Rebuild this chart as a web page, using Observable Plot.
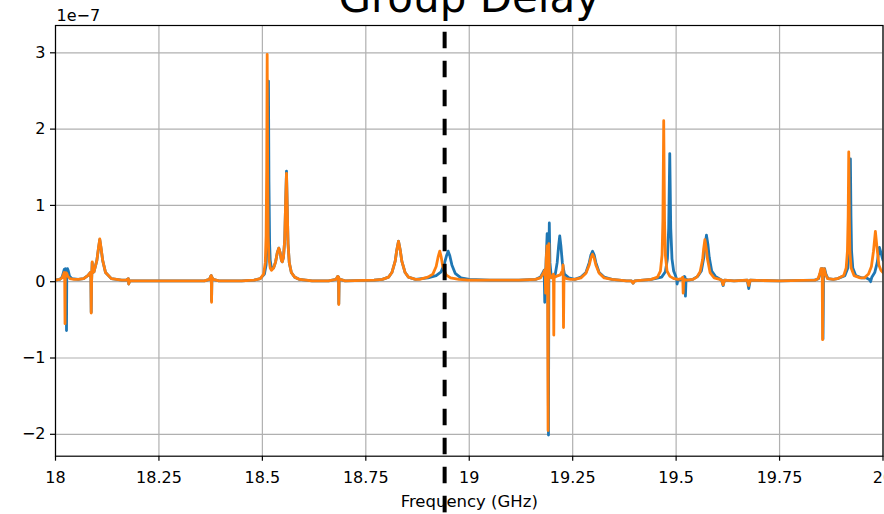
<!DOCTYPE html>
<html>
<head>
<meta charset="utf-8">
<script src="https://cdn.jsdelivr.net/npm/d3@7"></script>
<script src="https://cdn.jsdelivr.net/npm/@observablehq/plot@0.6"></script>
<style>
  html, body { margin: 0; padding: 0; background: #fff; overflow: hidden; }
  #chart svg { display: block; }
</style>
</head>
<body>
<div id="chart"></div>
<script>
// ---- data (group delay in units of 1e-7 s, frequency in GHz) ----
const titleText = "Group Delay";
const xLabelText = "Frequency (GHz)";
const yExponentText = "1e\u22127";
const xTicks = [18, 18.25, 18.5, 18.75, 19, 19.25, 19.5, 19.75, 20];
const yTicks = [-2, -1, 0, 1, 2, 3];
const markerFreq = 18.9405;

// series 1 (blue): [frequency, group delay]
const blueSeries = [
  [18.000,0.02],[18.010,0.03],[18.016,0.06],[18.019,0.12],[18.021,0.16],[18.024,0.17],
  [18.0260,0.12],[18.0266,-0.64],[18.0273,0.12],[18.029,0.17],[18.031,0.14],[18.034,0.07],
  [18.040,0.04],[18.055,0.03],[18.068,0.04],[18.078,0.08],[18.084,0.12],[18.0855,0.05],
  [18.0863,-0.40],[18.0872,0.00],[18.0887,0.25],[18.0900,0.12],[18.093,0.13],[18.100,0.28],
  [18.104,0.44],[18.107,0.55],[18.110,0.44],[18.114,0.28],[18.121,0.12],[18.135,0.04],
  [18.160,0.02],[18.171,0.02],[18.176,0.04],[18.177,-0.03],[18.179,0.01],[18.200,0.01],
  [18.300,0.01],[18.360,0.01],[18.372,0.03],[18.375,0.07],[18.3765,0.08],[18.3772,-0.25],
  [18.378,0.06],[18.381,0.03],[18.395,0.01],[18.450,0.01],[18.480,0.02],[18.495,0.04],
  [18.505,0.10],[18.509,0.22],[18.5115,0.50],[18.5135,1.30],[18.5147,2.63],[18.5159,1.30],
  [18.5175,0.50],[18.519,0.28],[18.522,0.17],[18.527,0.18],[18.532,0.26],[18.536,0.38],
  [18.5397,0.44],[18.543,0.38],[18.546,0.28],[18.548,0.26],[18.551,0.32],[18.554,0.55],
  [18.556,1.00],[18.5583,1.45],[18.560,1.00],[18.562,0.50],[18.565,0.25],[18.570,0.12],
  [18.578,0.06],[18.590,0.03],[18.620,0.01],[18.660,0.01],[18.678,0.03],[18.682,0.07],
  [18.684,0.06],[18.6847,-0.29],[18.6855,0.04],[18.688,0.03],[18.700,0.01],[18.770,0.02],
  [18.790,0.03],[18.805,0.06],[18.813,0.12],[18.821,0.27],[18.825,0.42],[18.829,0.53],
  [18.833,0.42],[18.837,0.27],[18.845,0.12],[18.853,0.06],[18.870,0.03],[18.900,0.05],
  [18.920,0.08],[18.932,0.13],[18.940,0.24],[18.945,0.34],[18.949,0.40],[18.953,0.34],
  [18.958,0.22],[18.966,0.11],[18.980,0.05],[19.000,0.03],[19.050,0.02],[19.120,0.02],
  [19.160,0.03],[19.172,0.06],[19.178,0.12],[19.181,0.15],[19.1825,-0.27],[19.1845,0.10],
  [19.1883,0.63],[19.1900,0.20],[19.1915,-2.01],[19.1925,0.30],[19.1935,0.77],[19.1950,0.25],
  [19.1980,0.08],[19.2030,0.06],[19.2080,0.10],[19.2125,0.25],[19.2160,0.47],[19.2187,0.60],
  [19.2215,0.47],[19.2250,0.25],[19.2300,0.10],[19.2405,0.05],[19.255,0.03],[19.270,0.06],
  [19.282,0.12],[19.290,0.25],[19.294,0.35],[19.298,0.40],[19.302,0.35],[19.306,0.25],
  [19.314,0.12],[19.326,0.06],[19.345,0.03],[19.380,0.01],[19.392,0.01],[19.396,-0.02],
  [19.400,0.01],[19.440,0.03],[19.465,0.06],[19.474,0.13],[19.479,0.30],[19.482,0.70],
  [19.4846,1.68],[19.487,0.70],[19.490,0.30],[19.494,0.14],[19.4990,0.07],[19.5015,0.03],
  [19.5024,-0.03],[19.5040,0.02],[19.515,0.03],[19.520,0.07],[19.5215,0.06],[19.5225,-0.19],
  [19.5240,0.03],[19.530,0.02],[19.540,0.03],[19.552,0.07],[19.561,0.14],[19.567,0.32],
  [19.570,0.48],[19.5733,0.61],[19.577,0.48],[19.580,0.32],[19.586,0.14],[19.595,0.07],
  [19.610,0.02],[19.6136,-0.05],[19.617,0.02],[19.640,0.01],[19.672,0.02],[19.6755,-0.09],
  [19.679,0.02],[19.750,0.01],[19.835,0.02],[19.844,0.04],[19.848,0.10],[19.851,0.17],
  [19.854,0.17],[19.855,-0.75],[19.8565,0.15],[19.859,0.17],[19.862,0.10],[19.867,0.04],
  [19.880,0.03],[19.890,0.04],[19.908,0.08],[19.915,0.18],[19.918,0.40],[19.9198,0.85],
  [19.9212,1.61],[19.9226,0.85],[19.924,0.40],[19.927,0.18],[19.934,0.08],[19.948,0.05],
  [19.960,0.05],[19.967,0.03],[19.970,0.00],[19.973,0.06],[19.980,0.12],[19.986,0.25],
  [19.9913,0.45],[19.995,0.38],[20.000,0.28]
];

// series 2 (orange): [frequency, group delay]
const orangeSeries = [
  [18.000,0.02],[18.010,0.03],[18.016,0.05],[18.019,0.09],[18.021,0.12],[18.0222,0.06],
  [18.0230,-0.55],[18.0237,0.08],[18.025,0.12],[18.027,0.11],[18.030,0.07],[18.035,0.04],
  [18.045,0.03],[18.055,0.03],[18.068,0.04],[18.078,0.08],[18.084,0.12],[18.0855,0.05],
  [18.0863,-0.41],[18.0872,0.00],[18.0887,0.26],[18.0900,0.12],[18.093,0.13],[18.100,0.28],
  [18.104,0.45],[18.107,0.56],[18.110,0.45],[18.114,0.28],[18.121,0.12],[18.135,0.04],
  [18.160,0.02],[18.171,0.02],[18.176,0.04],[18.177,-0.03],[18.179,0.01],[18.200,0.01],
  [18.300,0.01],[18.360,0.01],[18.372,0.03],[18.375,0.07],[18.3765,0.08],[18.3772,-0.27],
  [18.378,0.06],[18.381,0.03],[18.395,0.01],[18.450,0.01],[18.480,0.02],[18.495,0.04],
  [18.503,0.10],[18.507,0.25],[18.509,0.60],[18.5105,1.50],[18.5116,2.98],[18.5128,1.50],
  [18.514,0.60],[18.516,0.30],[18.519,0.18],[18.522,0.15],[18.527,0.18],[18.532,0.26],
  [18.536,0.38],[18.5397,0.44],[18.543,0.38],[18.546,0.28],[18.548,0.26],[18.551,0.32],
  [18.554,0.55],[18.556,1.00],[18.5583,1.42],[18.560,1.00],[18.562,0.50],[18.565,0.25],
  [18.570,0.12],[18.578,0.06],[18.590,0.03],[18.620,0.01],[18.660,0.01],[18.678,0.03],
  [18.682,0.07],[18.684,0.06],[18.6847,-0.30],[18.6855,0.04],[18.688,0.03],[18.700,0.01],
  [18.770,0.02],[18.790,0.03],[18.805,0.06],[18.813,0.12],[18.821,0.27],[18.825,0.42],
  [18.829,0.53],[18.833,0.42],[18.837,0.27],[18.845,0.12],[18.853,0.06],[18.870,0.03],
  [18.880,0.03],[18.900,0.06],[18.912,0.10],[18.920,0.20],[18.925,0.33],[18.9287,0.40],
  [18.932,0.33],[18.936,0.20],[18.944,0.09],[18.955,0.05],[18.975,0.03],[19.000,0.02],
  [19.120,0.02],[19.160,0.03],[19.172,0.05],[19.178,0.10],[19.1815,0.14],[19.1835,0.16],
  [19.1845,-0.15],[19.1860,0.30],[19.1880,0.47],[19.1893,0.30],[19.1905,-1.95],[19.1915,0.20],
  [19.1925,0.50],[19.1940,0.12],[19.1980,0.05],[19.2020,0.06],[19.2035,0.10],[19.2043,-0.70],
  [19.2052,0.05],[19.2100,0.07],[19.2200,0.09],[19.2255,0.15],[19.2268,0.22],[19.2278,-0.60],
  [19.2290,0.06],[19.2350,0.04],[19.2450,0.03],[19.255,0.03],[19.270,0.05],[19.282,0.11],
  [19.290,0.22],[19.294,0.31],[19.298,0.36],[19.302,0.31],[19.306,0.22],[19.314,0.11],
  [19.326,0.05],[19.345,0.03],[19.380,0.01],[19.392,0.01],[19.396,-0.02],[19.400,0.01],
  [19.440,0.03],[19.455,0.06],[19.462,0.14],[19.466,0.35],[19.468,0.80],[19.470,2.11],
  [19.472,0.80],[19.474,0.35],[19.478,0.14],[19.485,0.07],[19.495,0.04],[19.505,0.03],
  [19.513,0.04],[19.5160,0.06],[19.5170,-0.15],[19.5185,0.03],[19.525,0.02],[19.540,0.03],
  [19.550,0.06],[19.558,0.13],[19.564,0.29],[19.5665,0.43],[19.5695,0.55],[19.573,0.43],
  [19.576,0.29],[19.582,0.12],[19.592,0.05],[19.605,0.03],[19.610,0.02],[19.6136,-0.04],
  [19.617,0.02],[19.640,0.01],[19.672,0.02],[19.6755,-0.05],[19.679,0.02],[19.750,0.01],
  [19.835,0.02],[19.843,0.04],[19.847,0.10],[19.850,0.17],[19.853,0.17],[19.854,-0.76],
  [19.8555,0.15],[19.858,0.17],[19.861,0.10],[19.866,0.04],[19.880,0.03],[19.890,0.04],
  [19.905,0.08],[19.911,0.18],[19.914,0.40],[19.9158,0.85],[19.9172,1.70],[19.9186,0.85],
  [19.920,0.40],[19.923,0.18],[19.930,0.08],[19.945,0.05],[19.955,0.05],[19.965,0.10],
  [19.972,0.20],[19.977,0.40],[19.9816,0.66],[19.986,0.42],[19.990,0.22],[19.995,0.15],
  [20.000,0.12]
];

const blue = blueSeries.map(([f, v]) => ({f, v}));
const orange = orangeSeries.map(([f, v]) => ({f, v}));
const fmtY = d => (d < 0 ? "\u2212" + Math.abs(d) : String(d));

const chart = Plot.plot({
  width: 884,
  height: 514,
  marginLeft: 55,
  marginRight: 1.5,
  marginTop: 25,
  marginBottom: 58.3,
  style: {fontFamily: "'DejaVu Sans', sans-serif", fontSize: "16px", background: "white", color: "black"},
  x: {domain: [18, 20], inset: 0},
  y: {domain: [-2.287, 3.358], inset: 0},
  marks: [
    Plot.gridX({ticks: xTicks, stroke: "#b0b0b0", strokeOpacity: 1, strokeWidth: 1.2}),
    Plot.gridY({ticks: yTicks, stroke: "#b0b0b0", strokeOpacity: 1, strokeWidth: 1.2}),
    Plot.line(blue, {x: "f", y: "v", stroke: "#1f77b4", strokeWidth: 2.8, strokeLinejoin: "round", clip: true}),
    Plot.line(orange, {x: "f", y: "v", stroke: "#ff7f0e", strokeWidth: 2.8, strokeLinejoin: "round", clip: true}),
    Plot.frame({stroke: "black", strokeWidth: 1.2}),
    Plot.axisX({ticks: xTicks, tickSize: 5, tickPadding: 10, tickFormat: d => String(d), fontSize: 16, label: null, strokeWidth: 1.2}),
    Plot.axisY({ticks: yTicks, tickSize: 5, tickPadding: 5, tickFormat: fmtY, fontSize: 16, label: null, strokeWidth: 1.2}),
    Plot.ruleX([markerFreq], {y1: 3.268, y2: -3.1, stroke: "black", strokeWidth: 4, strokeDasharray: "16.5,12.5"}),
    Plot.text([titleText], {frameAnchor: "top", dy: -14, lineAnchor: "bottom", fontSize: 42}),
    Plot.text([yExponentText], {frameAnchor: "top-left", dx: 1, dy: -4.5, lineAnchor: "bottom", textAnchor: "start", fontSize: 16}),
    Plot.text([xLabelText], {frameAnchor: "bottom", dy: 50.3, lineAnchor: "bottom", fontSize: 16.5})
  ]
});
document.getElementById("chart").appendChild(chart);
</script>
</body>
</html>
